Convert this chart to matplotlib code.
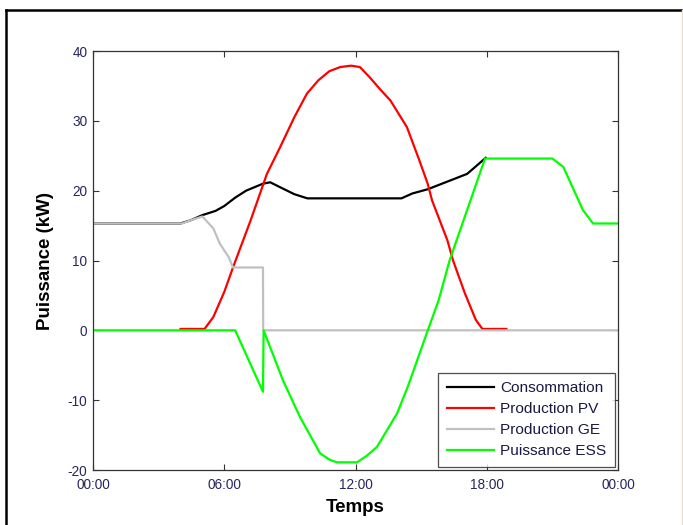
import matplotlib
matplotlib.use("Agg")
import matplotlib.pyplot as plt
from matplotlib.lines import Line2D

plt.rcParams['font.family'] = ['Liberation Sans', 'DejaVu Sans']
plt.rcParams['axes.unicode_minus'] = False

# Time in hours
cons_t = [0, 4.0, 4.5, 5.0, 5.6, 6.0, 6.5, 7.0, 7.77, 8.1, 8.55, 9.2, 9.8, 14.1, 14.6, 15.3, 16.2, 17.1, 17.4, 17.95]
cons_v = [15.3, 15.3, 15.8, 16.5, 17.1, 17.8, 19.0, 20.0, 21.0, 21.2, 20.5, 19.5, 18.9, 18.9, 19.6, 20.2, 21.3, 22.4, 23.2, 24.7]

pv_t = [4.0, 5.1, 5.5, 6.0, 6.4, 7.2, 7.95, 8.55, 9.2, 9.78, 10.3, 10.8, 11.3, 11.8, 12.2, 12.66, 13.1, 13.6, 14.35, 14.9, 15.3, 15.5, 16.2, 16.46, 17.0, 17.5, 17.8, 18.9]
pv_v = [0.2, 0.2, 1.9, 5.5, 9.0, 15.7, 22.4, 26.2, 30.5, 33.9, 35.8, 37.1, 37.7, 37.9, 37.7, 36.2, 34.6, 32.9, 29.1, 24.5, 21.0, 18.6, 12.9, 10.0, 5.3, 1.5, 0.2, 0.2]

ge_t = [0, 4.07, 4.5, 5.0, 5.5, 5.8, 6.2, 6.4, 7.77, 7.78, 24]
ge_v = [15.3, 15.3, 15.8, 16.3, 14.6, 12.4, 10.5, 9.0, 9.0, 0.0, 0.0]

ess_t = [0, 6.5, 7.77, 7.8, 8.69, 9.46, 10.38, 10.8, 11.15, 12.07, 12.5, 12.98, 13.9, 14.4, 15.27, 15.8, 16.3, 17.1, 17.92, 21.0, 21.5, 22.4, 22.86, 24]
ess_v = [0, 0, -8.8, 0, -7.2, -12.4, -17.6, -18.5, -18.9, -18.9, -18.0, -16.7, -11.9, -8.0, -0.3, 4.3, 10.0, 17.2, 24.6, 24.6, 23.4, 17.2, 15.3, 15.3]

labels = ['Consommation', 'Production PV', 'Production GE', 'Puissance ESS']
colors = ['#000000', '#ff0000', '#c0c0c0', '#00ff00']

xticks = [0, 6, 12, 18, 24]
xticklabels = ['00:00', '06:00', '12:00', '18:00', '00:00']
yticks = [-20, -10, 0, 10, 20, 30, 40]

fig = plt.figure(figsize=(6.83, 5.25), dpi=100)
fig.patch.set_facecolor('white')
ax = fig.add_axes([93/683, 1-470/525, (618-93)/683, (470-51)/525])

for t, v, lab, c in zip([cons_t, pv_t, ge_t, ess_t], [cons_v, pv_v, ge_v, ess_v], labels, colors):
    ax.plot(t, v, color=c, lw=1.6, label=lab)

ax.set_xlim(0, 24)
ax.set_ylim(-20, 40)
ax.set_xticks(xticks)
ax.set_xticklabels(xticklabels)
ax.set_yticks(yticks)
tick_col = '#262660'
ax.tick_params(direction='in', length=4, width=0.8, top=True, right=True,
               labelsize=9.8, labelcolor=tick_col, color='#333333')
ax.tick_params(axis='x', pad=6)
ax.tick_params(axis='y', pad=4)
for s in ax.spines.values():
    s.set_color('#333333')
    s.set_linewidth(0.9)

ax.set_xlabel('Temps', fontsize=13.5, fontweight='bold', labelpad=5)
ax.set_ylabel('Puissance (kW)', fontsize=13.5, fontweight='bold', labelpad=10)

leg = ax.legend(loc='lower right', fontsize=11.1, frameon=True, fancybox=False,
                edgecolor='#222222', borderaxespad=0.22, handlelength=3.05,
                labelspacing=0.45, borderpad=0.55, handletextpad=0.4)
leg.get_frame().set_linewidth(0.9)
for txt in leg.get_texts():
    txt.set_color('#1a1a40')

# figure frame lines (window border)
fig.add_artist(Line2D([6/683, 6/683], [0, 1-10/525], transform=fig.transFigure, color='black', lw=1.8))
fig.add_artist(Line2D([6/683, 1], [1-10/525, 1-10/525], transform=fig.transFigure, color='black', lw=1.8))
fig.add_artist(Line2D([682/683, 682/683], [0, 1-10/525], transform=fig.transFigure, color='#e8e0c8', lw=1.0))

fig.savefig('out.png', dpi=100)
